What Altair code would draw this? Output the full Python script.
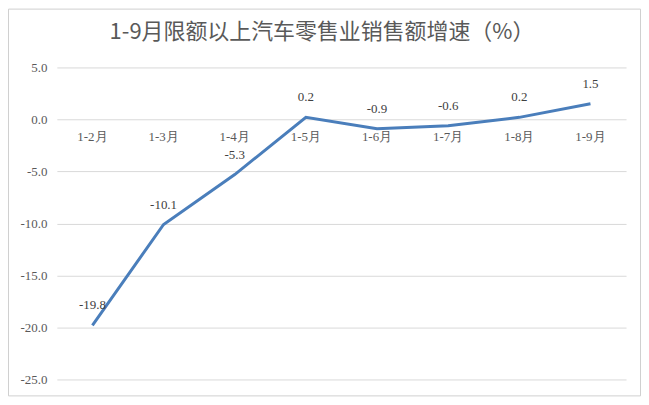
import altair as alt
import pandas as pd

periods = ['1-2月', '1-3月', '1-4月', '1-5月', '1-6月', '1-7月', '1-8月', '1-9月']
growth = [-19.8, -10.1, -5.3, 0.2, -0.9, -0.6, 0.2, 1.5]
y_ticks = [5, 0, -5, -10, -15, -20, -25]
title = '1-9月限额以上汽车零售业销售额增速（%）'

df = pd.DataFrame({'period': periods, 'growth': growth, 'zero': [0] * len(periods)})

serif = 'Liberation Serif'
grey = '#595959'

x = alt.X('period:N', sort=periods, title=None, axis=None,
          scale=alt.Scale(type='point', padding=0.5))
y_scale = alt.Scale(domain=[-25, 5], nice=False)

base = alt.Chart(df)

line = base.mark_line(color='#4a7ebb', strokeWidth=3).encode(
    x=x,
    y=alt.Y('growth:Q', scale=y_scale, title=None,
            axis=alt.Axis(values=y_ticks, ticks=False, domain=False,
                          labelExpr="replace(format(datum.value, '.1f'), '\u2212', '-')",
                          labelPadding=10, labelFont=serif, labelFontSize=13,
                          labelColor=grey, gridColor='#d9d9d9', gridWidth=1))
)

labels = base.transform_calculate(
    lab="replace(format(datum.growth, '.1f'), '\u2212', '-')"
).mark_text(dy=-20, font=serif, fontSize=13, color='#404040').encode(
    x=x, y=alt.Y('growth:Q', scale=y_scale),
    text='lab:N'
)

cats = base.mark_text(dy=18, font=serif, fontSize=13, color=grey).encode(
    x=x, y=alt.Y('zero:Q', scale=y_scale),
    text='period:N'
)

one = alt.Chart(pd.DataFrame({'t': [title]}))

# outer border of the whole chart (kept inside the svg so it is not clipped)
frame = one.mark_rect(
    x=-48.5, x2=585.5, y=-58.5, y2=329.5,
    fill='white', fillOpacity=0, strokeWidth=1
).encode(color=alt.value('white'), stroke=alt.value('#d0d0d0'))

head = one.mark_text(font='Noto Sans CJK SC', fontSize=22, color=grey,
                     align='center', baseline='middle').encode(
    x=alt.value(266), y=alt.value(-36), text='t:N'
)

chart = alt.layer(frame, line, labels, cats, head).properties(
    width=571, height=313,
    autosize=alt.AutoSizeParams(type='none'),
    padding={'left': 49, 'top': 59, 'right': 15, 'bottom': 17}
).configure_view(stroke=None)

chart.save('out.html', embed_options={'renderer': 'svg', 'actions': False})
